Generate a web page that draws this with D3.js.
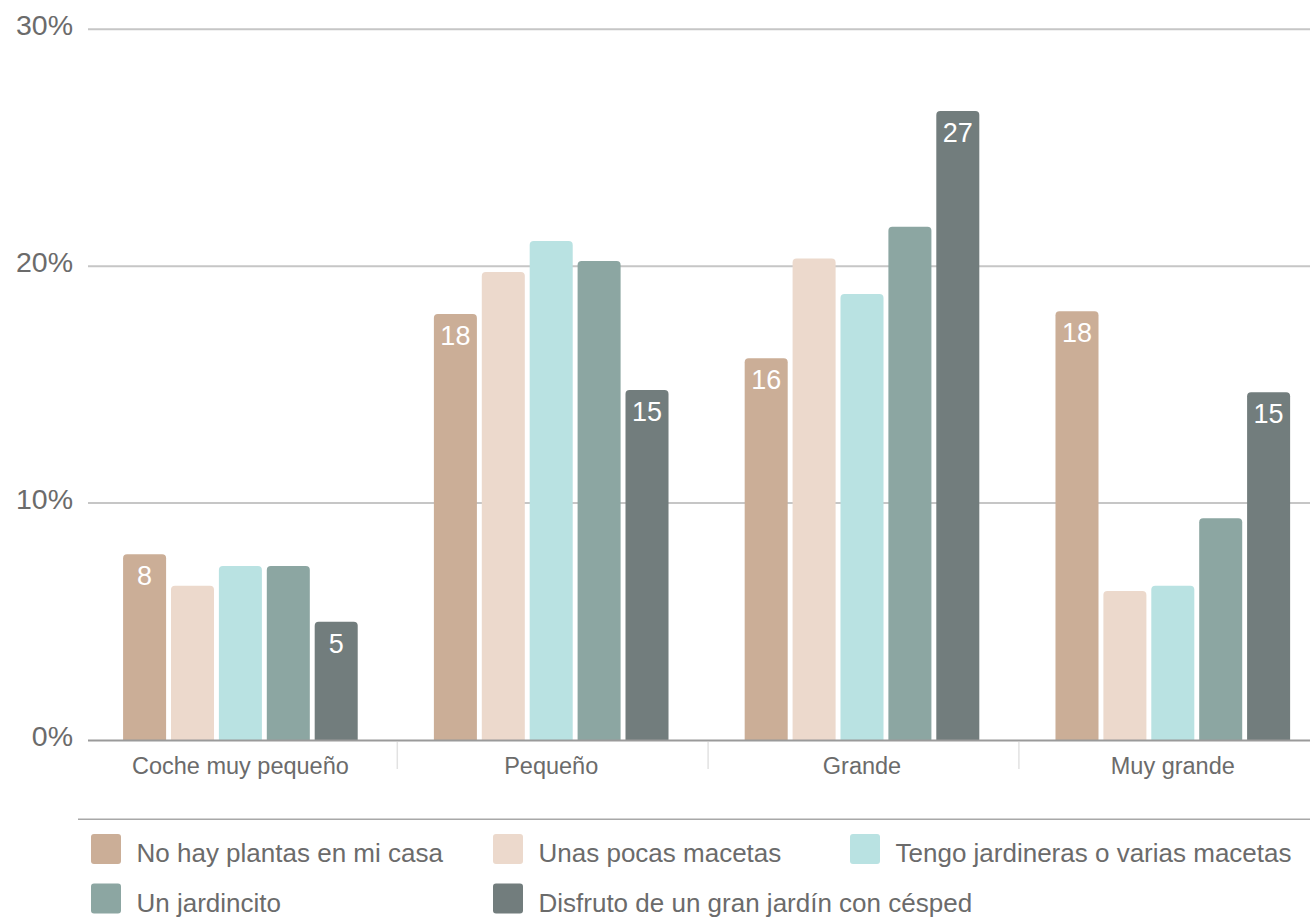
<!DOCTYPE html>
<html>
<head>
<meta charset="utf-8">
<script src="https://cdn.jsdelivr.net/npm/d3@7"></script>
<style>
  html, body { margin: 0; padding: 0; background: #fff; }
  svg { display: block; font-family: "Liberation Sans", Arial, Helvetica, sans-serif; }
</style>
</head>
<body>
<svg id="chart" width="1310" height="921"></svg>
<script>
const categories = ["Coche muy pequeño", "Pequeño", "Grande", "Muy grande"];
const seriesNames = [
  "No hay plantas en mi casa",
  "Unas pocas macetas",
  "Tengo jardineras o varias macetas",
  "Un jardincito",
  "Disfruto de un gran jardín con césped"
];
const seriesColors = ["#cbae97", "#ecd9cc", "#b9e2e2", "#8ca6a2", "#727d7d"];
// values per series, in order of categories (%)
const noPlantas     = [7.84, 17.98, 16.11, 18.10];
const pocasMacetas  = [6.51, 19.75, 20.33, 6.29];
const jardineras    = [7.34, 21.06, 18.83, 6.51];
const jardincito    = [7.34, 20.22, 21.66, 9.36];
const granJardin    = [4.99, 14.77, 26.55, 14.68];
const seriesValues = [noPlantas, pocasMacetas, jardineras, jardincito, granJardin];
const labeledSeries = [0, 4];
const yTicks = [0, 10, 20, 30];

const svg = d3.select("#chart");
const textColor = "#6b6b6b";

const y = d3.scaleLinear().domain([0, 30]).range([740, 29.3]);
const x0 = d3.scaleBand().domain(categories).range([85, 1328.2]).paddingInner(0).paddingOuter(0);
const x1 = d3.scaleBand().domain(d3.range(seriesNames.length)).range([0, x0.bandwidth()])
  .paddingInner(0.102).paddingOuter(0.795);

// gridlines + y labels
const grid = svg.append("g");
yTicks.forEach(t => {
  if (t !== 0) {
    grid.append("line")
      .attr("x1", 88).attr("x2", 1310)
      .attr("y1", y(t)).attr("y2", y(t))
      .attr("stroke", "#c6c6c6").attr("stroke-width", 2);
  }
  grid.append("text")
    .attr("x", 73).attr("y", y(t) + 6)
    .attr("text-anchor", "end")
    .attr("font-size", 28.5)
    .attr("fill", textColor)
    .text(t + "%");
});

// bars
function topRounded(x, yTop, w, h, r) {
  r = Math.min(r, h, w / 2);
  return `M${x},${yTop + h} L${x},${yTop + r} Q${x},${yTop} ${x + r},${yTop} L${x + w - r},${yTop} Q${x + w},${yTop} ${x + w},${yTop + r} L${x + w},${yTop + h} Z`;
}

const groups = svg.append("g").selectAll("g").data(categories).join("g")
  .attr("transform", d => `translate(${x0(d)},0)`);

groups.each(function(cat, ci) {
  const g = d3.select(this);
  seriesValues.forEach((vals, si) => {
    const v = vals[ci];
    const bx = x1(si), bw = x1.bandwidth();
    g.append("path")
      .attr("d", topRounded(bx, y(v), bw, y(0) - y(v), 4))
      .attr("fill", seriesColors[si]);
    if (labeledSeries.includes(si)) {
      g.append("text")
        .attr("x", bx + bw / 2)
        .attr("y", y(v) + 31)
        .attr("text-anchor", "middle")
        .attr("font-size", 27)
        .attr("fill", "#ffffff")
        .text(Math.round(v));
    }
  });
});

// x axis baseline
svg.append("line")
  .attr("x1", 88).attr("x2", 1310)
  .attr("y1", y(0) + 0.5).attr("y2", y(0) + 0.5)
  .attr("stroke", "#9a9a9a").attr("stroke-width", 2.2);

// group separators
categories.slice(1).forEach(c => {
  svg.append("line")
    .attr("x1", x0(c) + 1.5).attr("x2", x0(c) + 1.5)
    .attr("y1", y(0) + 2).attr("y2", 769)
    .attr("stroke", "#e2e2e2").attr("stroke-width", 1.5);
});

// category labels
categories.forEach(c => {
  svg.append("text")
    .attr("x", x0(c) + x0.bandwidth() / 2)
    .attr("y", 774)
    .attr("text-anchor", "middle")
    .attr("font-size", 23.5)
    .attr("fill", textColor)
    .text(c);
});

// legend separator
svg.append("line")
  .attr("x1", 78).attr("x2", 1310)
  .attr("y1", 819.3).attr("y2", 819.3)
  .attr("stroke", "#a8a8a8").attr("stroke-width", 1.5);

// legend
const legendCols = [91, 493, 850];
const legendRows = [834, 883.5];
seriesNames.forEach((name, i) => {
  const lx = legendCols[i % 3];
  const ly = legendRows[Math.floor(i / 3)];
  svg.append("rect")
    .attr("x", lx).attr("y", ly)
    .attr("width", 30).attr("height", 30)
    .attr("rx", 3)
    .attr("fill", seriesColors[i]);
  svg.append("text")
    .attr("x", lx + 45.5).attr("y", ly + 28)
    .attr("font-size", 26)
    .attr("fill", textColor)
    .text(name);
});
</script>
</body>
</html>
